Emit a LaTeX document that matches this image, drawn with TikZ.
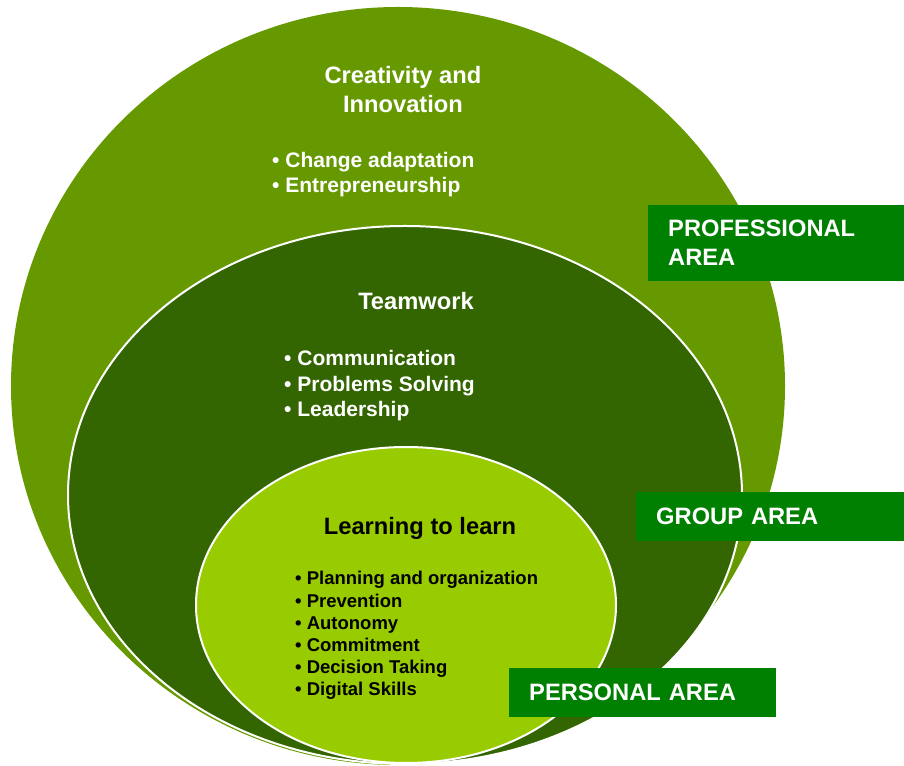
\documentclass[tikz,border=0pt]{standalone}
\usepackage{fontspec}
\setmainfont{Liberation Sans}
\usepackage{xcolor}
\definecolor{outergreen}{HTML}{669900}
\definecolor{midgreen}{HTML}{336600}
\definecolor{innergreen}{HTML}{99CC00}
\definecolor{areagreen}{HTML}{008000}

\begin{document}
\begin{tikzpicture}[x=1pt, y=1pt,
  title/.style={font=\bfseries\fontsize{23.7}{29}\selectfont, align=center, inner sep=0pt, anchor=base},
  items/.style={font=\bfseries\fontsize{21}{25.5}\selectfont, align=left, inner sep=0pt, anchor=base west},
  area/.style={fill=areagreen, text=white, font=\bfseries\fontsize{23.7}{29}\selectfont, align=left, inner xsep=20pt, inner ysep=0pt, anchor=north west}]
\useasboundingbox (0,0) rectangle (904,765);
\fill[outergreen] (398,379) ellipse [x radius=387, y radius=379];
\filldraw[fill=midgreen, draw=white, line width=2pt] (405,270) ellipse [x radius=337, y radius=269];
\filldraw[fill=innergreen, draw=white, line width=2pt] (406,160) ellipse [x radius=210, y radius=158];

% multi-line nodes sit on the baseline of their last line
\node[title, text=white] (creativity) at (403,652) {Creativity and\\Innovation};
\node[items, text=white] (creativitylist) at (272,572) {• Change adaptation\\• Entrepreneurship};
\node[title, text=white] (teamwork) at (416,455) {Teamwork};
\node[items, text=white] (teamworklist) at (284,348) {• Communication\\• Problems Solving\\• Leadership};
\node[title] (learning) at (420,230) {Learning to learn};
\node[items, font=\bfseries\fontsize{18.5}{22.2}\selectfont] (learninglist) at (295,69)
  {• Planning and organization\\• Prevention\\• Autonomy\\• Commitment\\• Decision Taking\\• Digital Skills};

\node[area, text width=216pt, minimum height=76pt] (professional) at (648,560) {PROFESSIONAL\\AREA};
\node[area, text width=228pt, minimum height=49pt] (group) at (636,273) {GROUP AREA};
\node[area, text width=227pt, minimum height=49pt] (personal) at (509,97) {PERSONAL AREA};
\end{tikzpicture}
\end{document}
